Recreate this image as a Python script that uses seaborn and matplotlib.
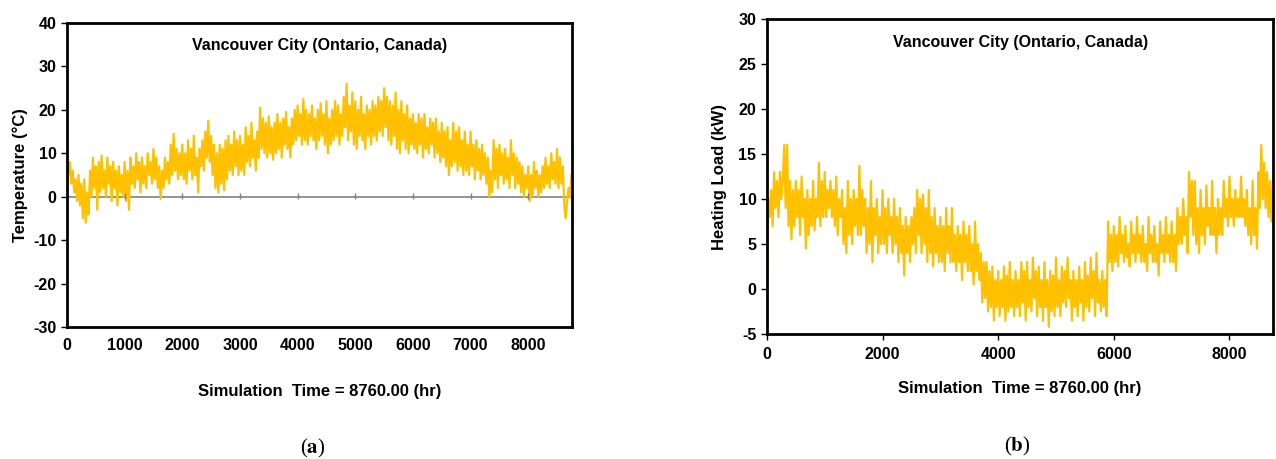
import numpy as np
import pandas as pd
import matplotlib
matplotlib.use("Agg")
import matplotlib.pyplot as plt
import seaborn as sns

# hourly simulation, values every 25 h
hours = np.arange(0, 8760, 25)

temperature = [
    9, 5, 8, 3, 6, 1, 4, -1, 5, -2, 3, -5, 4, -6, 1, -4, 6, 0, 9, 2,
    7, -3, 8, 1, 9.5, 2, 6, 0, 9, 3, 7, -1, 8, 2, 6, -2, 7, 1, 5, 0,
    8, -1, 6, -3, 9, 3, 7, 2, 10, 4, 8, 1, 9, 3, 7, 2, 10, 5, 8, 3,
    11, 4, 9, 2, 7, -0.5, 6, 2, 9, 4, 8, 3, 12, 5, 14.5, 6, 11, 4, 10, 5,
    12, 4, 10, 3, 13, 6, 11, 4, 14, 5, 9, 1, 11, 7, 13, 6, 15, 9, 17.5, 8,
    14, 5, 12, 2, 10, 1, 12, 3, 11, 1.5, 13, 4, 14, 6, 12, 5, 15, 7, 13, 5,
    14, 6, 12, 5, 16, 8, 14, 7, 17, 9, 13, 6, 15, 9, 20.5, 11, 18, 10, 17, 9,
    18.5, 10, 16, 8.5, 17, 10, 19, 11, 17, 9, 18, 12, 19.5, 11, 16, 9, 18, 12, 20, 13,
    21, 14, 19, 12, 22.5, 13, 20, 12, 19, 14, 21, 13, 18, 11, 20, 13, 21.5, 14, 19, 12,
    22, 10, 18, 12, 20, 13, 22, 14, 21, 12, 19, 14, 23, 16, 26, 13, 21, 15, 24, 12,
    22, 11, 20, 14, 23, 13, 19, 11, 21, 14, 20, 12, 22, 14, 21, 13, 23, 15, 22, 14,
    25, 16, 23, 13, 22, 12, 21, 14, 24, 11, 20, 10, 22, 13, 19, 11, 21, 10, 18, 12,
    19, 11, 17, 10, 19, 12, 18, 9, 19, 11, 16, 10, 18, 12, 17, 9, 18, 10, 15, 8,
    17, 9, 15, 7, 16, 5, 13, 7, 17, 8, 15, 6, 16, 7, 13, 5, 15, 6, 12, 5,
    15, 7, 12, 4, 13, 6, 11, 4, 12, 5, 10, 3, 9, 0, 6, 1, 13, 4, 11, 2,
    12, 5, 10, 3, 11, 4, 9, 2, 13, 5, 10, 2, 9, 3, 8, 1, 7, 0, 5, 2,
    7, -1, 5, 0, 8, 2, 6, 0, 5, 1, 7, 2, 9, 3, 7, 2, 10, 4, 8, 3,
    11, 2, 9, 3, 7, -2, -5, -1, 2, 0, 5,
]

heating_load = [
    0, 10, 8, 11, 7, 13, 9, 12, 8, 13, 10, 12, 16, 9, 16, 7, 12, 5.5, 11, 7,
    12, 8, 11, 6, 12.5, 8, 10, 4.5, 11, 6, 10, 7, 12, 6.5, 10, 8, 14, 7, 12, 8,
    13, 8, 11, 9, 12, 8, 11, 7, 12.5, 6, 10, 8, 11, 5, 9, 4, 12, 6, 10, 5,
    11, 7, 10, 6, 13.7, 6, 11, 7, 10, 4, 9, 5, 12, 3, 9, 6, 10, 4, 8, 5,
    11, 5, 9, 4, 10, 6, 8, 4, 10, 5, 8, 3, 9, 4, 7, 1.5, 8, 4, 7, 3,
    8, 5, 9, 4, 11, 6, 10, 4, 10.5, 5, 9, 3, 11, 4, 8, 2.5, 9, 4, 7, 3,
    8, 3, 7, 2, 9, 4, 7, 3, 9, 3, 6, 2, 7, 3, 6, 1, 7.5, 3, 6, 2,
    7, 2, 5, 0.5, 7.5, 2, 5, 1, 4, -1.5, 3, -1, 3, -2.5, 2, -2, 2.5, -3.5, 1, -2,
    2, -3, 1, -2, 2.5, -3.5, 1.5, -2.5, 3, -2, 1, -3, 2, -2, 1, -3, 3, -1.5, 2, -3.5,
    3, -2, 1, -2.5, 3.5, -1, 2, -3, 2.5, -2, 1, -3.5, 3, -2, 1, -4.2, 2, -2.5, 1.5, -3,
    3.5, -2, 1, -3, 2.5, -1.5, 2, -2, 3.5, -1, 1, -3.5, 2, -2, 1, -3, 2.5, -1.5, 1, -3.5,
    3, -2, 1.5, -2.5, 3.5, -1, 2, -3, 4, -1.5, 1, -2.5, 2, -2, 1, -3, 7.5, 3, 6, 2,
    7, 3, 6, 2.5, 8, 4, 6, 3, 7, 3.5, 5, 2.5, 7.5, 4, 6, 3, 8, 4, 6, 3,
    7, 3, 5, 2, 8, 4, 6, 3, 7, 3, 5, 1.5, 7.5, 4, 6, 3, 8, 4, 6, 3,
    7.5, 3, 6, 2, 9, 5, 8, 5, 10, 6, 8, 4, 13, 8, 12, 6, 12, 5, 9, 4,
    11, 6, 9, 5, 11.5, 7, 9, 6, 12, 6, 9, 4, 10, 6, 9, 6, 12, 8, 10, 7,
    12.5, 8, 10, 7, 11, 8, 10, 8, 12.5, 8, 10, 7, 11, 6, 9, 5, 12, 6, 9, 4.5,
    13, 9, 16, 10, 14, 9, 13, 8, 12, 7.5, 12,
]

df = pd.DataFrame({"hour": hours, "temperature": temperature, "load": heating_load})

sns.set_style("white")
plt.rcParams["font.family"] = ["Liberation Sans", "DejaVu Sans"]
plt.rcParams["font.weight"] = "bold"
plt.rcParams["axes.unicode_minus"] = False
plt.rcParams["mathtext.fontset"] = "stix"
plt.rcParams["text.color"] = "black"
plt.rcParams["axes.labelcolor"] = "black"
plt.rcParams["xtick.color"] = "black"
plt.rcParams["ytick.color"] = "black"

line_color = "#FFC000"
title = "Vancouver City (Ontario, Canada)"
xlabel = "Simulation  Time = 8760.00 (hr)"

fig = plt.figure(figsize=(12.76, 4.59), dpi=100)
ax1 = fig.add_axes([0.0525, 0.2876, 0.3958, 0.6624])
ax2 = fig.add_axes([0.601, 0.2723, 0.397, 0.6863])

# (a) temperature
sns.lineplot(data=df, x="hour", y="temperature", ax=ax1, color=line_color, linewidth=1.6)
ax1.set_xlim(0, 8760)
ax1.set_ylim(-30, 40)
ax1.set_yticks(range(-30, 41, 10))
ax1.set_xticks(range(0, 8001, 1000))
ax1.axhline(0, color="#808080", linewidth=1.2, zorder=1)
ax1.vlines(range(1000, 8001, 1000), -0.6, 0.9, color="#808080", linewidth=1)
ax1.tick_params(axis="x", length=0, pad=8)
ax1.set_ylabel("Temperature (°C)", fontsize=12, fontweight="bold", labelpad=4)
ax1.set_xlabel(xlabel, fontsize=12, fontweight="bold", labelpad=22)

# (b) heating load
sns.lineplot(data=df, x="hour", y="load", ax=ax2, color=line_color, linewidth=1.6)
ax2.set_xlim(0, 8760)
ax2.set_ylim(-5, 30)
ax2.set_yticks(range(-5, 31, 5))
ax2.set_xticks(range(0, 8001, 2000))
ax2.tick_params(axis="x", length=4, width=1, pad=5)
ax2.set_ylabel("Heating Load (kW)", fontsize=12, fontweight="bold", labelpad=8)
ax2.set_xlabel(xlabel, fontsize=12, fontweight="bold", labelpad=14)

for ax in (ax1, ax2):
    ax.set_title(title, fontsize=11.5, fontweight="bold", y=0.885, color="black")
    ax.tick_params(axis="y", length=4, width=1, direction="out", left=True)
    ax.tick_params(axis="x", bottom=ax is ax2, direction="out")
    for lbl in ax.get_xticklabels() + ax.get_yticklabels():
        lbl.set_fontsize(11.5)
        lbl.set_fontweight("bold")
    for sp in ax.spines.values():
        sp.set_visible(True)
        sp.set_color("black")
        sp.set_linewidth(2)

fig.text(0.245, 0.012, r"($\mathbf{a}$)", fontsize=15, family="Liberation Serif",
         fontweight="normal", ha="center")
fig.text(0.797, 0.016, r"($\mathbf{b}$)", fontsize=15, family="Liberation Serif",
         fontweight="normal", ha="center")

fig.savefig("out.png", dpi=100)
